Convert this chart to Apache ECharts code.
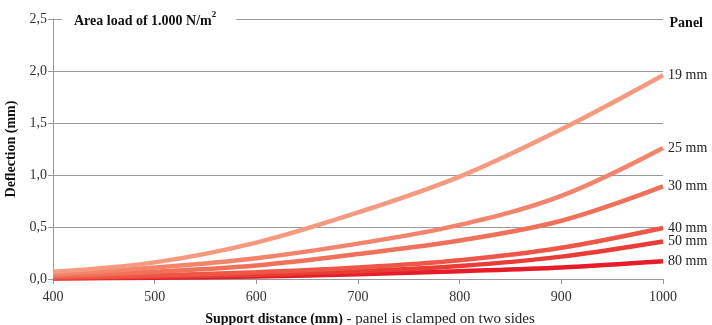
<!DOCTYPE html>
<html>
<head>
<meta charset="utf-8">
<script src="https://cdn.jsdelivr.net/npm/echarts@6/dist/echarts.min.js"></script>
<style>
  html, body { margin: 0; padding: 0; background: #fff; }
  #main { width: 712px; height: 325px; }
</style>
</head>
<body>
<div id="main"></div>
<script>
  // support distance (mm)
  var distance = [400, 500, 600, 700, 800, 900, 1000];
  // deflection (mm) per panel thickness
  var panels = ['19 mm', '25 mm', '30 mm', '40 mm', '50 mm', '80 mm'];
  var p19 = [0.07, 0.16, 0.35, 0.64, 0.985, 1.44, 1.96];
  var p25 = [0.045, 0.11, 0.20, 0.34, 0.52, 0.80, 1.26];
  var p30 = [0.03, 0.07, 0.13, 0.24, 0.37, 0.56, 0.89];
  var p40 = [0.015, 0.035, 0.065, 0.11, 0.18, 0.30, 0.49];
  var p50 = [0.01, 0.022, 0.042, 0.075, 0.125, 0.215, 0.36];
  var p80 = [0.005, 0.012, 0.025, 0.045, 0.075, 0.11, 0.17];
  var colors = ['#f59a7e', '#f3846b', '#f1705a', '#ee5747', '#ea3c36', '#e61d29'];

  var font = 'Liberation Serif';
  var values = [p19, p25, p30, p40, p50, p80];

  var series = panels.map(function (name, i) {
    return {
      name: name,
      type: 'line',
      smooth: 0.35,
      symbol: 'none',
      data: distance.map(function (d, j) { return [d, values[i][j]]; }),
      lineStyle: { color: colors[i], width: 4.5 },
      endLabel: {
        show: true,
        formatter: '{a}',
        color: '#222',
        fontFamily: font,
        fontSize: 14,
        distance: 5
      },
      z: 10 - i
    };
  });

  var myChart = echarts.init(document.getElementById('main'));
  var option = {
    animation: false,
    textStyle: { fontFamily: font },
    title: [{
      text: '{b|Area load of 1.000 N/m}{s|2}',
      left: 62,
      top: 10,
      backgroundColor: '#fff',
      padding: [0, 20, 0, 12],
      textStyle: {
        rich: {
          b: { fontFamily: font, fontWeight: 'bold', fontSize: 14, color: '#111', padding: [4, 0, 0, 0] },
          s: { fontFamily: font, fontWeight: 'bold', fontSize: 9, color: '#111', verticalAlign: 'top', padding: [0, 0, 6, 0] }
        }
      }
    }, {
      text: 'Panel',
      right: 4,
      top: 11,
      textStyle: { fontFamily: font, fontWeight: 'bold', fontSize: 14, color: '#111' }
    }],
    grid: { left: 53, right: 49, top: 19, bottom: 46, containLabel: false, outerBoundsMode: 'none' },
    xAxis: {
      type: 'value',
      min: 400,
      max: 1000,
      interval: 100,
      axisLine: { lineStyle: { color: '#999' } },
      axisTick: { show: true, length: 5, lineStyle: { color: '#999' } },
      splitLine: { show: false },
      axisLabel: {
        color: '#333',
        fontFamily: font,
        fontSize: 14,
        margin: 11,
        formatter: function (v) { return String(v); }
      },
      name: '{b|Support distance (mm)}{n| - panel is clamped on two sides}',
      nameLocation: 'middle',
      nameGap: 33,
      nameTextStyle: {
        padding: [0, 0, 0, 24],
        rich: {
          b: { fontFamily: font, fontWeight: 'bold', fontSize: 14, color: '#111' },
          n: { fontFamily: font, fontSize: 15, color: '#222' }
        }
      }
    },
    yAxis: {
      type: 'value',
      min: 0,
      max: 2.5,
      interval: 0.5,
      axisLine: { show: true, lineStyle: { color: '#999' } },
      axisTick: { show: true, length: 5, lineStyle: { color: '#999' } },
      splitLine: { lineStyle: { color: '#999', width: 1 } },
      axisLabel: {
        color: '#333',
        fontFamily: font,
        fontSize: 14,
        margin: 6,
        formatter: function (v) { return v.toFixed(1).replace('.', ','); }
      },
      name: 'Deflection (mm)',
      nameLocation: 'middle',
      nameGap: 32,
      nameTextStyle: { fontFamily: font, fontWeight: 'bold', fontSize: 14, color: '#111' }
    },
    series: series
  };
  myChart.setOption(option);
</script>
</body>
</html>
